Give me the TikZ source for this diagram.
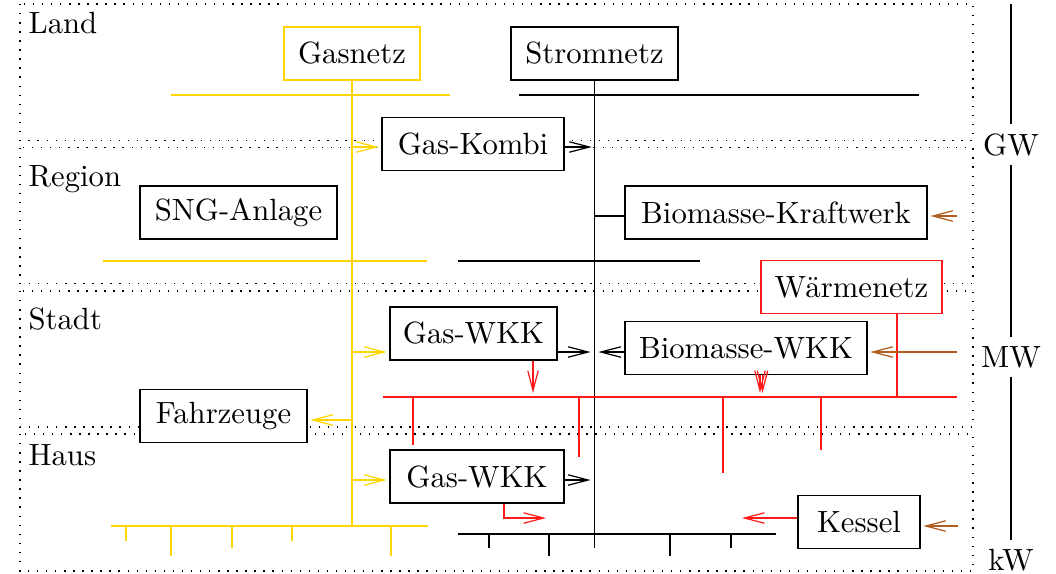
\documentclass[tikz,border=0pt]{standalone}
\usepackage{fontspec}
\usetikzlibrary{arrows.meta}
\definecolor{gasc}{RGB}{255,214,0}
\definecolor{heatc}{RGB}{255,25,25}
\definecolor{bioc}{RGB}{178,92,32}
\begin{document}
\begin{tikzpicture}[x=0.3257pt,y=-0.3257pt,
  >={Straight Barb[length=6.5pt,width=3.4pt]},
  box/.style={draw,fill=white,minimum height=17.26pt,inner xsep=2pt,inner ysep=2pt},
  lvl/.style={anchor=base west,inner sep=0pt},
  unit/.style={anchor=base,inner sep=2.7pt},
  zone/.style={dash pattern=on 0.45pt off 2.5pt},
  gas/.style={draw=gasc},
  heat/.style={draw=heatc},
  bio/.style={draw=bioc},
  tip/.style={->,shorten >=0.9pt}]
\useasboundingbox (0,0) rectangle (1056,573);

% zones
\draw[zone] (20,4) rectangle (973,140.5);
\draw[zone] (20,147.5) rectangle (973,283.5);
\draw[zone] (20,291) rectangle (973,427);
\draw[zone] (20,434) rectangle (973,571);
\node[lvl] (lland) at (28,33) {Land};
\node[lvl] (lregion) at (28,186) {Region};
\node[lvl] (lstadt) at (28,329) {Stadt};
\node[lvl] (lhaus) at (28,465) {Haus};

% gas network lines (behind nodes)
\coordinate (g1a) at (171,95); \coordinate (g1b) at (450,95);
\coordinate (g2a) at (103,261); \coordinate (g2b) at (427,261);
\coordinate (g3a) at (111,526); \coordinate (g3b) at (428,526);

% nodes
\node[box,draw=gasc,minimum width=44.3pt] (gasnetz) at (352,53.5) {Gasnetz};
\node[box,minimum width=54.4pt] (stromnetz) at (594.5,53.5) {Stromnetz};
\node[box,minimum width=59.3pt] (gaskombi) at (473,144) {Gas-Kombi};
\node[box,minimum width=64.2pt] (sng) at (238.5,212.5) {SNG-Anlage};
\node[box,minimum width=98.4pt] (bkw) at (776,212.5) {Biomasse-Kraftwerk};
\node[box,draw=heatc,minimum width=59.0pt] (waermenetz) at (851.5,287) {Wärmenetz};
\node[box,minimum width=54.4pt] (gaswkk1) at (473.5,333.5) {Gas-WKK};
\node[box,minimum width=78.8pt] (biowkk) at (746,348) {Biomasse-WKK};
\node[box,minimum width=54.4pt] (fahrzeuge) at (223.5,416) {Fahrzeuge};
\node[box,minimum width=56.7pt] (gaswkk2) at (477,476.5) {Gas-WKK};
\node[box,minimum width=39.7pt] (kessel) at (859,522) {Kessel};

% gas network
\draw[gas] (g1a) -- (g1b);
\draw[gas] (g2a) -- (g2b);
\draw[gas,line width=0.6pt] (g3a) -- (g3b);
\draw[gas] (gasnetz.south) -- (gasnetz.south |- g3a);
\foreach \x/\l in {126/541,171/556,232/548,292/541,391/556}
  \draw[gas] (\x,526) -- (\x,\l);
\coordinate (gk) at (352,147);
\draw[gas,tip] (gk) -- (gaskombi.west |- gk);
\coordinate (gw1) at (352,352);
\draw[gas,tip] (gw1) -- (gaswkk1.west |- gw1);
\coordinate (gf) at (352,420);
\draw[gas,tip] (gf) -- (fahrzeuge.east |- gf);
\coordinate (gw2) at (352,480);
\draw[gas,tip] (gw2) -- (gaswkk2.west |- gw2);

% electricity network
\coordinate (sbot) at (594.5,548);
\draw (stromnetz.south) -- (sbot);
\coordinate (s1a) at (519,95); \coordinate (s1b) at (919,95);
\coordinate (s2a) at (458,261); \coordinate (s2b) at (700,261);
\coordinate (s3a) at (458,534); \coordinate (s3b) at (776,534);
\draw (s1a) -- (s1b);
\draw (s2a) -- (s2b);
\draw (s3a) -- (s3b);
\foreach \x/\l in {489/548,549/556,670/556,731/548}
  \draw (\x,534) -- (\x,\l);
\coordinate (sk) at (594.5,147);
\draw[tip] (gaskombi.east |- sk) -- (sk);
\coordinate (sb) at (594.5,216);
\draw (sb) -- (bkw.west |- sb);
\coordinate (sw) at (594.5,352);
\draw[->,shorten >=1.3pt] (gaswkk1.east |- sw) -- (sw);
\draw[->,shorten >=1.3pt] (biowkk.west |- sw) -- (sw);
\coordinate (sw2) at (594.5,480);
\draw[->,shorten >=1.3pt] (gaswkk2.east |- sw2) -- (sw2);

% heat network
\coordinate (h1a) at (383,397); \coordinate (h1b) at (957,397);
\draw[heat] (h1a) -- (h1b);
\coordinate (hw) at (897,397);
\draw[heat] (waermenetz.south -| hw) -- (hw);
\foreach \x/\l in {413/445,579/457,723/473,821/450}
  \draw[heat] (\x,397) -- (\x,\l);
\coordinate (hg1) at (533,397);
\draw[heat,->,shorten >=1.3pt] (gaswkk1.south -| hg1) -- (hg1);
\coordinate (hb1) at (760,397);
\coordinate (hb2) at (762.5,397);
\draw[heat,->,shorten >=1.3pt] (biowkk.south -| hb1) -- (hb1);
\draw[heat,->,shorten >=1.3pt] (biowkk.south -| hb2) -- (hb2);
\coordinate (hk) at (504,518);
\coordinate (hkend) at (546,518);
\draw[heat,->] (gaswkk2.south -| hk) |- (hkend);
\coordinate (hke) at (742,518);
\draw[heat,->] (kessel.west |- hke) -- (hke);

% biomass supply
\coordinate (b1) at (957,216);
\draw[bio,tip] (b1) -- (bkw.east |- b1);
\coordinate (b2) at (957,352);
\draw[bio,tip] (b2) -- (biowkk.east |- b2);
\coordinate (b3) at (958,526);
\draw[bio,tip] (b3) -- (kessel.east |- b3);

% power scale
\coordinate (ut) at (1011,4);
\node[unit] (gw) at (1011,155) {GW};
\node[unit] (mw) at (1011,367) {MW};
\node[unit] (kw) at (1011,570) {kW};
\draw (ut) -- (gw);
\draw (gw) -- (mw);
\draw (mw) -- (kw);
\end{tikzpicture}
\end{document}
